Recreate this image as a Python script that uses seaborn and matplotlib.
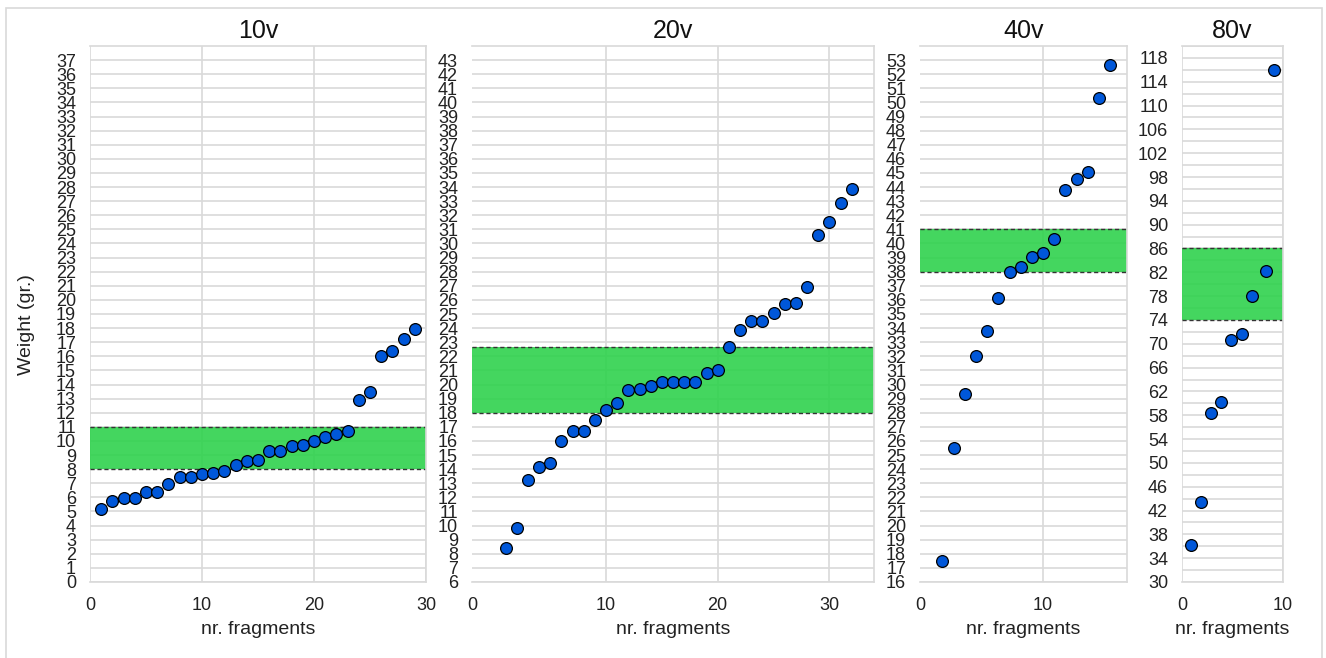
import numpy as np
import pandas as pd
import matplotlib
matplotlib.use('Agg')
import matplotlib.pyplot as plt
from matplotlib.patches import Rectangle
from matplotlib.ticker import MultipleLocator
import seaborn as sns

# values
w10 = [5.16, 5.75, 5.98, 5.98, 6.38, 6.38, 6.95, 7.42, 7.42, 7.63, 7.75, 7.9, 8.27, 8.57, 8.67,
       9.26, 9.28, 9.63, 9.7, 9.99, 10.3, 10.5, 10.7, 12.93, 13.47, 16.04, 16.4, 17.2, 17.93]
w20 = [8.4, 9.85, 13.24, 14.16, 14.44, 16.0, 16.73, 16.73, 17.46, 18.2, 18.67, 19.6, 19.66, 19.9,
       20.2, 20.2, 20.2, 20.2, 20.85, 21.0, 22.67, 23.9, 24.47, 24.47, 25.08, 25.7, 25.8, 26.9,
       30.6, 31.5, 32.9, 33.85]
w40 = [17.5, 25.5, 29.3, 32.0, 33.8, 36.1, 38.0, 38.3, 39.05, 39.35, 40.3, 43.8, 44.6, 45.1, 50.3, 52.65]
w80 = [36.2, 43.35, 58.4, 60.2, 70.6, 71.6, 78.1, 82.2, 116.0]
x80 = [0.9, 1.9, 2.9, 3.9, 4.9, 5.9, 6.9, 8.3, 9.1]

titles = ['10v', '20v', '40v', '80v']
bands = [(8, 11), (18, 22.67), (38, 41), (74, 86)]
ylims = [(0, 38), (6, 44), (16, 54), (30, 120)]
xlims = [(0, 30), (-2, 34), (-1, 17.5), (0, 10)]

frames = [
    pd.DataFrame({'n': np.arange(1, len(w10) + 1), 'w': w10}),
    pd.DataFrame({'n': np.arange(1, len(w20) + 1), 'w': w20}),
    pd.DataFrame({'n': np.arange(1, len(w40) + 1), 'w': w40}),
    pd.DataFrame({'n': x80, 'w': w80}),
]

sns.set_style('white')
plt.rcParams['font.family'] = ['Liberation Sans', 'DejaVu Sans']

fig = plt.figure(figsize=(13.26, 6.58), dpi=100)
W, H = 1326, 658
# axes boxes in pixels: left, width
boxes = [(90, 336), (472, 402), (920, 207), (1182, 101)]
top, bottom = 46, 582

grid_c = '#d9d9d9'
for i, (l, w) in enumerate(boxes):
    ax = fig.add_axes([l / W, 1 - bottom / H, w / W, (bottom - top) / H])
    lo, hi = bands[i]
    ax.axhspan(lo, hi, color='#2fd24d', alpha=0.9, lw=0, zorder=1)
    ax.axhline(lo, color='#333333', ls=(0, (3, 2)), lw=1, zorder=2)
    ax.axhline(hi, color='#333333', ls=(0, (3, 2)), lw=1, zorder=2)
    sns.scatterplot(data=frames[i], x='n', y='w', ax=ax, s=72, color='#0057d9',
                    edgecolor='black', linewidth=0.9, zorder=3, clip_on=False)
    ax.set_xlim(*xlims[i])
    ax.set_ylim(*ylims[i])
    x0 = xlims[i][0]
    labs = list(range(0, int(xlims[i][1]) + 1, 10))
    if x0 < 0:
        # the reference puts its "0" at the left edge of these panels
        ax.set_xticks([x0] + labs[1:])
        ax.set_xticklabels([str(v) for v in labs])
    else:
        ax.set_xticks(labs)
    ylo, yhi = ylims[i]
    if i == 3:
        ax.set_yticks(range(ylo, yhi, 4))
        ax.yaxis.set_minor_locator(MultipleLocator(2))
    else:
        ax.set_yticks(range(ylo, yhi))
    ax.grid(True, which='both', axis='y', color=grid_c, lw=1.2, zorder=0)
    ax.grid(True, which='major', axis='x', color=grid_c, lw=1.2, zorder=0)
    if x0 < 0:
        ax.get_xgridlines()[0].set_visible(False)
    ax.set_axisbelow(True)
    for s in ['top', 'right', 'bottom']:
        ax.spines[s].set_color(grid_c)
        ax.spines[s].set_linewidth(1.2)
    ax.spines['left'].set_visible(False)
    ax.tick_params(axis='both', which='both', length=0, labelsize=13, colors='#222222')
    ax.tick_params(axis='y', pad=10)
    ax.tick_params(axis='x', pad=11)
    ax.set_title(titles[i], fontsize=18, pad=6, color='#111111')
    ax.set_xlabel('nr. fragments', fontsize=14, color='#222222', labelpad=5)
    if i == 0:
        ax.set_ylabel('Weight (gr.)', fontsize=14, color='#222222')
        ax.yaxis.set_label_coords(-0.165, 0.48)
    else:
        ax.set_ylabel('')

fig.patches.append(Rectangle((6 / W, -0.02), 1316 / W, 1 - 8 / H + 0.02,
                             transform=fig.transFigure, fill=False,
                             edgecolor='#d9d9d9', lw=1.2))
fig.savefig('out.png', dpi=100)
